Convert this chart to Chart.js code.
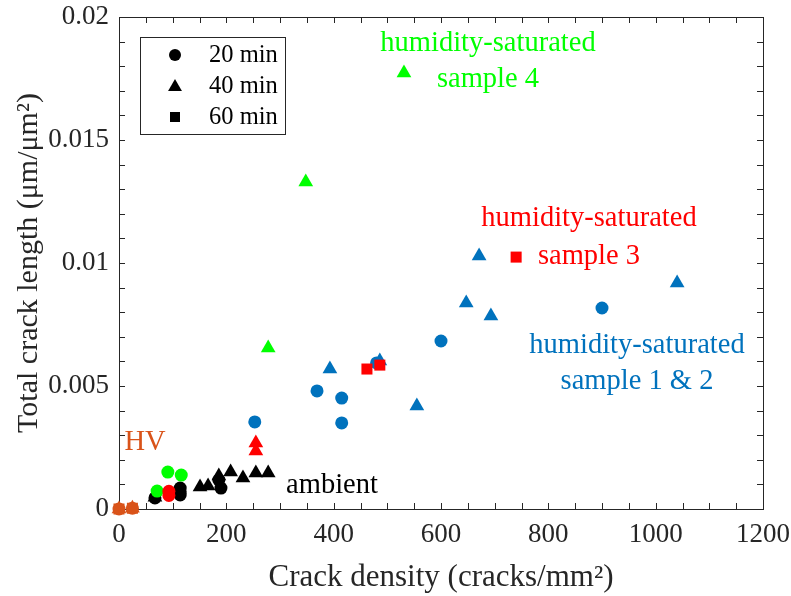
<!DOCTYPE html>
<html>
<head>
<meta charset="utf-8">
<script src="https://cdn.jsdelivr.net/npm/chart.js@4.4.0/dist/chart.umd.min.js"></script>
<style>
  body { margin: 0; background: #ffffff; }
  #wrap { width: 791px; height: 596px; }
</style>
</head>
<body>
<div id="wrap"><canvas id="crackChart" width="791" height="596"></canvas></div>
<script>
// Crack density vs total crack length
const blueCircleX = [253, 369, 415, 415, 480, 600, 900];
const blueCircleY = [0.00354, 0.0048, 0.00451, 0.0035, 0.00594, 0.00683, 0.00817];
const blueTriangleX = [393, 486, 555, 647, 671, 693, 1040];
const blueTriangleY = [0.00569, 0.00602, 0.00419, 0.00837, 0.01028, 0.00785, 0.00919];

const greenCircleX = [71, 91, 116];
const greenCircleY = [0.00073, 0.0015, 0.00138];
const greenTriangleX = [278, 348, 531];
const greenTriangleY = [0.00654, 0.01329, 0.01772];

const redCircleX = [93, 93];
const redCircleY = [0.00072, 0.00055];
const redTriangleX = [255, 255];
const redTriangleY = [0.00268, 0.00236];
const redSquareX = [462, 486, 740];
const redSquareY = [0.00569, 0.00585, 0.01024];

const blackCircleX = [67, 114, 114, 114, 186, 190];
const blackCircleY = [0.00045, 0.00085, 0.0007, 0.00057, 0.00118, 0.00085];
const blackTriangleX = [67, 151, 166, 186, 208, 231, 255, 278];
const blackTriangleY = [0.00048, 0.00089, 0.00093, 0.00134, 0.0015, 0.00126, 0.00146, 0.00146];

const hvX = [0, 25];
const hvY = [0, 0.00003];

const xMajorTicks = [0, 200, 400, 600, 800, 1000, 1200];
const xTickLabels = ['0', '200', '400', '600', '800', '1000', '1200'];
const yMajorTicks = [0, 0.005, 0.01, 0.015, 0.02];
const yTickLabels = ['0', '0.005', '0.01', '0.015', '0.02'];

const legendNames = ['20 min', '40 min', '60 min'];

const BLUE = '#0072BD';
const GREEN = '#00FF00';
const RED = '#FF0000';
const BLACK = '#000000';
const ORANGE = '#D95319';
const AXIS = '#262626';
const SERIF = '"Liberation Serif", "Times New Roman", serif';

function pts(xs, ys) {
    return xs.map((x, i) => ({ x: x, y: ys[i] }));
}

function marker(label, xs, ys, color, shape) {
    const radius = shape === 'circle' ? 6.5 : (shape === 'triangle' ? 8.5 : 7.8);
    return {
        label: label,
        data: pts(xs, ys),
        pointStyle: shape,
        pointRadius: radius,
        pointHoverRadius: radius,
        backgroundColor: color,
        borderColor: color,
        borderWidth: 0,
        showLine: false,
        clip: false
    };
}

function labelFor(majors, labels) {
    return function(value) {
        const i = majors.findIndex(v => Math.abs(v - value) < 1e-9);
        return i >= 0 ? labels[i] : '';
    };
}

// text labels inside the plot (pixel positions, centred)
const notes = [
    { text: 'humidity-saturated', color: GREEN, x: 488, y: 44 },
    { text: 'sample 4', color: GREEN, x: 488, y: 80 },
    { text: 'humidity-saturated', color: RED, x: 589, y: 219 },
    { text: 'sample 3', color: RED, x: 589, y: 257 },
    { text: 'humidity-saturated', color: BLUE, x: 637, y: 346 },
    { text: 'sample 1 & 2', color: BLUE, x: 637, y: 382 },
    { text: 'HV', color: ORANGE, x: 145, y: 443 },
    { text: 'ambient', color: BLACK, x: 332, y: 486 }
];

function drawShape(ctx, shape, x, y, r) {
    ctx.beginPath();
    if (shape === 'circle') {
        ctx.arc(x, y, r, 0, Math.PI * 2);
    } else if (shape === 'triangle') {
        ctx.moveTo(x, y - r);
        ctx.lineTo(x + r * Math.sin(2 * Math.PI / 3), y - r * Math.cos(2 * Math.PI / 3));
        ctx.lineTo(x + r * Math.sin(4 * Math.PI / 3), y - r * Math.cos(4 * Math.PI / 3));
    } else {
        ctx.rect(x - r, y - r, 2 * r, 2 * r);
    }
    ctx.closePath();
    ctx.fill();
}

const boxAndTicks = {
    id: 'boxAndTicks',
    beforeDatasetsDraw(chart) {
        const { ctx, chartArea: a, scales: { x, y } } = chart;
        const len = 6;
        ctx.save();
        ctx.strokeStyle = AXIS;
        ctx.lineWidth = 1;
        ctx.beginPath();
        x.ticks.forEach(t => {
            const px = Math.round(x.getPixelForValue(t.value)) + 0.5;
            ctx.moveTo(px, a.bottom); ctx.lineTo(px, a.bottom - len);
            ctx.moveTo(px, a.top); ctx.lineTo(px, a.top + len);
        });
        y.ticks.forEach(t => {
            const py = Math.round(y.getPixelForValue(t.value)) + 0.5;
            ctx.moveTo(a.left, py); ctx.lineTo(a.left + len, py);
            ctx.moveTo(a.right, py); ctx.lineTo(a.right - len, py);
        });
        ctx.stroke();
        ctx.strokeRect(Math.round(a.left) + 0.5, Math.round(a.top) + 0.5,
            Math.round(a.right - a.left), Math.round(a.bottom - a.top));
        ctx.restore();
    },
    afterDatasetsDraw(chart) {
        const { ctx, chartArea: a } = chart;
        ctx.save();
        // notes
        ctx.font = '28.5px ' + SERIF;
        ctx.textAlign = 'center';
        ctx.textBaseline = 'middle';
        notes.forEach(n => {
            ctx.fillStyle = n.color;
            ctx.fillText(n.text, n.x, n.y);
        });
        // legend box
        const lx = a.left + 21, ly = a.top + 20, lw = 145, lh = 97;
        ctx.fillStyle = '#ffffff';
        ctx.fillRect(lx, ly, lw, lh);
        ctx.strokeStyle = AXIS;
        ctx.lineWidth = 1;
        ctx.strokeRect(Math.round(lx) + 0.5, Math.round(ly) + 0.5, lw, lh);
        const shapes = ['circle', 'triangle', 'rect'];
        const sizes = [6, 8, 5];
        ctx.font = '24.5px ' + SERIF;
        ctx.textAlign = 'left';
        legendNames.forEach((name, i) => {
            const cy = ly + 18 + i * 31;
            ctx.fillStyle = BLACK;
            drawShape(ctx, shapes[i], lx + 35, cy + (shapes[i] === 'triangle' ? 1 : 0), sizes[i]);
            ctx.fillStyle = BLACK;
            ctx.fillText(name, lx + 69, cy + 1);
        });
        ctx.restore();
    }
};

Chart.defaults.font.family = SERIF;
Chart.defaults.color = AXIS;

const ctxCrack = document.getElementById('crackChart').getContext('2d');
const crackChart = new Chart(ctxCrack, {
    type: 'scatter',
    data: {
        datasets: [
            marker('HV 20 min', hvX, hvY, ORANGE, 'circle'),
            marker('HV 40 min', hvX, hvY, ORANGE, 'triangle'),
            marker('HV 60 min', hvX, hvY, ORANGE, 'rect'),
            marker('Sample 3, 60 min', redSquareX, redSquareY, RED, 'rect'),
            marker('Sample 3, 20 min', redCircleX, redCircleY, RED, 'circle'),
            marker('Sample 3, 40 min', redTriangleX, redTriangleY, RED, 'triangle'),
            marker('Sample 4, 20 min', greenCircleX, greenCircleY, GREEN, 'circle'),
            marker('Sample 4, 40 min', greenTriangleX, greenTriangleY, GREEN, 'triangle'),
            marker('Ambient, 20 min', blackCircleX, blackCircleY, BLACK, 'circle'),
            marker('Ambient, 40 min', blackTriangleX, blackTriangleY, BLACK, 'triangle'),
            marker('Sample 1 & 2, 20 min', blueCircleX, blueCircleY, BLUE, 'circle'),
            marker('Sample 1 & 2, 40 min', blueTriangleX, blueTriangleY, BLUE, 'triangle')
        ]
    },
    options: {
        responsive: false,
        animation: false,
        layout: {
            padding: { left: 0, top: 17, right: 28, bottom: 0 }
        },
        plugins: {
            legend: { display: false },
            tooltip: { enabled: false }
        },
        scales: {
            x: {
                type: 'linear',
                min: 0,
                max: 1200,
                afterFit: function(scale) {
                    scale.height = 87;
                    scale.paddingLeft = 0;
                    scale.paddingRight = 0;
                },
                grid: { display: false, drawTicks: false },
                border: { display: false },
                ticks: {
                    stepSize: 50,
                    autoSkip: false,
                    maxRotation: 0,
                    padding: 10,
                    color: AXIS,
                    font: { size: 27 },
                    callback: labelFor(xMajorTicks, xTickLabels)
                },
                title: {
                    display: true,
                    text: 'Crack density (cracks/mm²)',
                    color: AXIS,
                    font: { size: 31, lineHeight: 1.2 },
                    padding: { top: 0, bottom: 0 }
                }
            },
            y: {
                type: 'linear',
                min: 0,
                max: 0.02,
                afterFit: function(scale) {
                    scale.width = 119;
                    scale.paddingTop = 0;
                    scale.paddingBottom = 0;
                },
                grid: { display: false, drawTicks: false },
                border: { display: false },
                ticks: {
                    stepSize: 0.001,
                    autoSkip: false,
                    padding: 10,
                    color: AXIS,
                    font: { size: 27 },
                    callback: labelFor(yMajorTicks, yTickLabels)
                },
                title: {
                    display: true,
                    text: 'Total crack length (μm/μm²)',
                    color: AXIS,
                    font: { size: 30, lineHeight: 1.2 },
                    padding: { top: 11, bottom: 0 }
                }
            }
        }
    },
    plugins: [boxAndTicks]
});
</script>
</body>
</html>
